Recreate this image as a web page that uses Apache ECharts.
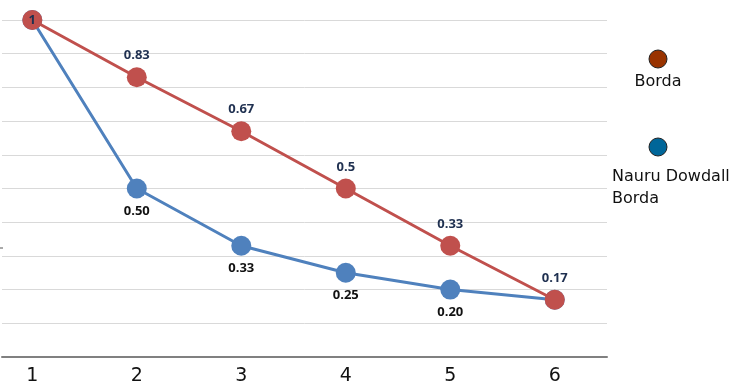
<!DOCTYPE html>
<html>
<head>
<meta charset="utf-8">
<script src="https://cdn.jsdelivr.net/npm/echarts@6/dist/echarts.min.js"></script>
<style>
html,body{margin:0;padding:0;background:#fff;}
#chart{width:739px;height:391px;}
</style>
</head>
<body>
<div id="chart"></div>
<script>
var positions = [1, 2, 3, 4, 5, 6];
var tickLabels = [1, 2, 3, 4, 5, 6];
var bordaValues = [1, 0.83, 0.67, 0.5, 0.33, 0.17];
var bordaLabels = ['1', '0.83', '0.67', '0.5', '0.33', '0.17'];
var nauruValues = [1, 0.50, 0.33, 0.25, 0.20, 0.17];
var nauruLabels = ['', '0.50', '0.33', '0.25', '0.20', ''];
var legendNames = ['Borda', 'Nauru Dowdall\nBorda'];
var legendColors = ['#993300', '#006699'];

var chart = echarts.init(document.getElementById('chart'), null, {renderer: 'canvas'});

function buildData(values, labels, firstInside) {
  return values.map(function (v, i) {
    var item = {value: [positions[i], v]};
    var lbl = {show: labels[i] !== '', formatter: labels[i]};
    if (firstInside && i === 0) {
      lbl.position = 'inside';
    }
    item.label = lbl;
    return item;
  });
}

var option = {
  animation: false,
  backgroundColor: '#ffffff',
  grid: {left: 2, right: 132, top: 20, bottom: 34, containLabel: false},
  xAxis: {
    type: 'value',
    min: 0.71,
    max: 6.5,
    axisLine: {show: true, lineStyle: {color: '#808080', width: 2}},
    axisTick: {show: false},
    splitLine: {show: false},
    axisLabel: {
      customValues: tickLabels,
      color: '#111111',
      fontFamily: 'DejaVu Sans',
      fontSize: 19,
      margin: 10
    }
  },
  yAxis: {
    type: 'value',
    min: 0,
    max: 1,
    interval: 0.1,
    axisLine: {show: false},
    axisTick: {show: false},
    axisLabel: {show: false},
    splitLine: {show: true, lineStyle: {color: '#d9d9d9', width: 1}}
  },
  series: [
    {
      name: 'Nauru Dowdall Borda',
      type: 'line',
      data: buildData(nauruValues, nauruLabels, false),
      symbol: 'circle',
      symbolSize: 20,
      lineStyle: {color: '#4f81bd', width: 3},
      itemStyle: {color: '#4f81bd'},
      label: {
        show: true,
        position: 'bottom',
        distance: 6,
        color: '#111111',
        fontFamily: 'Open Sans',
        fontWeight: 'bold',
        fontSize: 13
      },
      z: 2
    },
    {
      name: 'Borda',
      type: 'line',
      data: buildData(bordaValues, bordaLabels, true),
      symbol: 'circle',
      symbolSize: 20,
      lineStyle: {color: '#c0504d', width: 3},
      itemStyle: {color: '#c0504d'},
      label: {
        show: true,
        position: 'top',
        distance: 5,
        color: '#1f3050',
        fontFamily: 'Open Sans',
        fontWeight: 'bold',
        fontSize: 13
      },
      z: 3
    }
  ],
  graphic: [
    {type: 'circle', shape: {cx: 658, cy: 59, r: 9}, style: {fill: legendColors[0], stroke: '#222', lineWidth: 1}},
    {type: 'text', x: 658, y: 82, style: {text: legendNames[0], fill: '#111', font: '16px "DejaVu Sans"', textAlign: 'center', textVerticalAlign: 'middle'}},
    {type: 'circle', shape: {cx: 658, cy: 147, r: 9}, style: {fill: legendColors[1], stroke: '#222', lineWidth: 1}},
    {type: 'text', x: 612, y: 166, style: {text: legendNames[1], fill: '#111', font: '16px "DejaVu Sans"', textAlign: 'left', textVerticalAlign: 'top', lineHeight: 22}},
    {type: 'line', shape: {x1: 0, y1: 248, x2: 3, y2: 248}, style: {stroke: '#555', lineWidth: 1}}
  ]
};
chart.setOption(option);
</script>
</body>
</html>
